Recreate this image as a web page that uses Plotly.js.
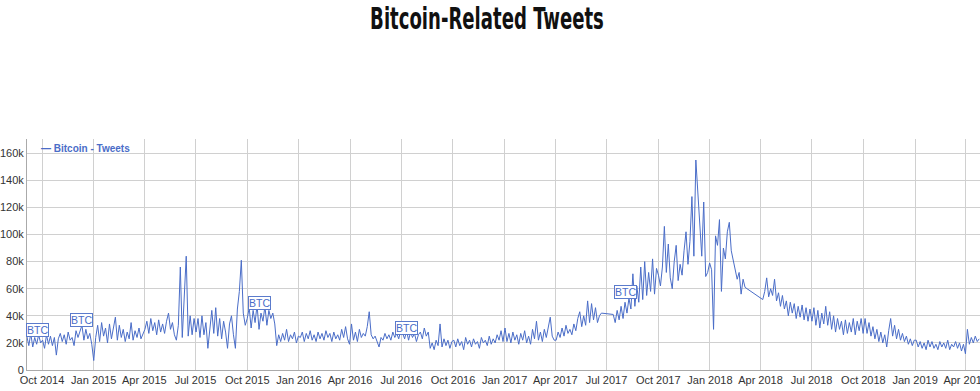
<!DOCTYPE html>
<html>
<head>
<meta charset="utf-8">
<script src="https://cdn.plot.ly/plotly-3.0.1.min.js"></script>
<style>
  html, body { margin: 0; padding: 0; background: #ffffff; }
  #chart { width: 980px; height: 391px; }
</style>
</head>
<body>
<div id="chart"></div>
<script>
// ---- Data (tweets per sample, in thousands; one sample every 3.5 days from 2014-09-04) ----
const seriesName = "Bitcoin - Tweets";
const startDate = "2014-09-04";
const stepDays = 3.5;

const s2014_09 = [25, 18, 27, 17, 24, 19, 26, 20];
const q2014_4 = [22, 16, 26, 19, 25, 18, 24, 11, 23, 27, 21, 26, 19, 28, 22, 24, 18, 29, 24, 28, 33, 22, 30, 23, 27, 19];
const q2015_1 = [7, 24, 33, 21, 35, 25, 31, 20, 34, 23, 30, 39, 22, 33, 24, 30, 21, 28, 23, 35, 22, 29, 24, 31, 23, 27];
const q2015_2 = [30, 36, 27, 38, 29, 35, 26, 37, 28, 34, 27, 36, 42, 30, 35, 26, 22, 33, 76, 24, 51, 84, 25, 40, 26, 38];
const q2015_3 = [28, 38, 24, 40, 26, 35, 16, 33, 44, 27, 46, 25, 38, 23, 36, 28, 16, 34, 40, 26, 16, 45, 58, 81, 42, 33];
const q2015_4 = [38, 46, 31, 44, 35, 48, 30, 42, 36, 47, 33, 44, 38, 42, 34, 18, 26, 21, 27, 22, 30, 21, 26, 23, 28, 20, 25];
const q2016_1 = [24, 28, 21, 27, 23, 29, 22, 26, 21, 28, 23, 27, 22, 29, 24, 27, 21, 28, 23, 26, 22, 30, 24, 32, 23, 19];
const q2016_2 = [34, 22, 28, 21, 30, 24, 27, 25, 32, 43, 26, 23, 25, 21, 17, 24, 22, 27, 23, 26, 22, 28, 24, 27, 23, 29];
const q2016_3 = [27, 23, 29, 22, 28, 24, 27, 21, 26, 28, 23, 31, 25, 28, 16, 20, 15, 22, 18, 34, 17, 23, 18, 22, 16, 21];
const q2016_4 = [22, 17, 23, 18, 21, 15, 24, 19, 22, 17, 23, 19, 21, 16, 24, 20, 22, 18, 25, 19, 23, 20, 26, 22, 29, 21];
const q2017_1 = [31, 21, 27, 20, 28, 22, 26, 19, 27, 22, 29, 20, 25, 19, 30, 23, 36, 22, 28, 21, 30, 24, 33, 39, 25, 22];
const q2017_2 = [22, 28, 24, 31, 25, 33, 27, 30, 26, 34, 29, 38, 43, 32, 40, 33, 51, 35, 49, 37, 46, 35, 40, 42, null, null];
const q2017_3 = [null, null, null, 41, 35, 44, 37, 47, 38, 50, 42, 53, 45, 71, 47, 62, 50, 76, 52, 80, 55, 72, 58, 82, 56, 75];
const q2017_4 = [70, 62, 76, 106, 72, 93, 68, 60, 80, 92, 66, 78, 70, 88, 102, 78, 95, 128, 84, 155, 128, 106, 84, 124, 69, 72, 79];
const q2018_1 = [74, 30, 99, 92, 111, 58, 90, 82, 102, 109, 88, 80, 75, 67, 72, 56, 67, 61, null, null, null, null, null, null, null];
const q2018_2 = [null, 52, 58, 68, 54, 60, 55, 67, 51, 57, 47, 55, 45, 51, 40, 50, 42, 49, 38, 47, 39, 48, 37, 46, 36, 45];
const q2018_3 = [36, 46, 33, 44, 31, 42, 34, 47, 33, 43, 30, 40, 28, 38, 30, 36, 26, 37, 27, 35, 28, 38, 26, 36, 29, 38, 27];
const q2018_4 = [38, 27, 35, 25, 32, 23, 30, 21, 28, 20, 26, 17, 29, 38, 25, 33, 23, 30, 22, 27, 21, 25, 19, 23, 18, 22];
const q2019_1 = [22, 17, 21, 16, 20, 15, 22, 17, 21, 16, 19, 15, 21, 17, 20, 16, 22, 15, 19, 17, 21, 16, 20, 14, 19, 12];
const s2019_04 = [30, 19, 24, 20, 25, 21, 23];

// Flag annotations ("BTC") : dates and values (thousands)
const flagDates = ["2014-09-23", "2014-12-11", "2015-10-23", "2016-07-10", "2017-08-03"];
const flagValues = [29.2, 36.6, 49.4, 30.7, 57.4];
const flagText = "BTC";

// Axis ticks
const yTickVals = [0, 20, 40, 60, 80, 100, 120, 140, 160];
const yTickText = ["0", "20k", "40k", "60k", "80k", "100k", "120k", "140k", "160k"];

// ---- Build ----
const values = [].concat(s2014_09, q2014_4, q2015_1, q2015_2, q2015_3, q2015_4,
  q2016_1, q2016_2, q2016_3, q2016_4, q2017_1, q2017_2, q2017_3, q2017_4,
  q2018_1, q2018_2, q2018_3, q2018_4, q2019_1, s2019_04);

const t0 = Date.parse(startDate + "T00:00:00Z");
const dates = values.map((_, i) => {
  const d = new Date(t0 + i * stepDays * 86400000);
  return d.toISOString().slice(0, 16).replace("T", " ");
});

const lineColor = "#4a6dc8";

const trace = {
  type: "scatter",
  mode: "lines",
  name: seriesName,
  x: dates,
  y: values,
  connectgaps: true,
  line: { color: lineColor, width: 1 },
  hoverinfo: "x+y",
  showlegend: false
};

const annotations = flagDates.map((d, i) => ({
  x: d, y: flagValues[i], xref: "x", yref: "y",
  text: flagText, showarrow: false,
  font: { family: "Liberation Sans, Arial, sans-serif", size: 10.5, color: lineColor },
  bgcolor: "#ffffff", bordercolor: "#5b7bcc", borderwidth: 1, borderpad: 0,
  xanchor: "center", yanchor: "middle"
}));

annotations.push({
  xref: "paper", yref: "paper", x: 0.0125, y: 0.96,
  xanchor: "left", yanchor: "middle", showarrow: false,
  text: "<b>\u2014 " + seriesName + "</b>",
  font: { family: "Liberation Sans, Arial, sans-serif", size: 10, color: lineColor }
});

const layout = {
  width: 980, height: 391,
  margin: { l: 27, r: 0, t: 139, b: 21, pad: 0 },
  paper_bgcolor: "#ffffff",
  plot_bgcolor: "#ffffff",
  title: {
    text: "Bitcoin-Related Tweets",
    x: 487 / 980, xref: "container", xanchor: "center",
    y: 1 - 19 / 391, yref: "container", yanchor: "middle",
    font: { family: "DejaVu Sans Condensed, Liberation Sans Narrow, sans-serif", size: 30, weight: 700, color: "#111111" }
  },
  xaxis: {
    type: "date",
    range: ["2014-09-04 07:00", "2019-04-26 10:00"],
    tick0: "2014-10-01", dtick: "M3",
    tickformat: "%b %Y",
    ticklabeloverflow: "allow",
    showgrid: true, gridcolor: "#d0d0d0", gridwidth: 1,
    showline: true, linecolor: "#aaaaaa", linewidth: 1,
    ticks: "", zeroline: false,
    automargin: false,
    tickfont: { family: "Liberation Sans, Arial, sans-serif", size: 11, color: "#333333" }
  },
  yaxis: {
    range: [0, 170.5],
    tickvals: yTickVals, ticktext: yTickText,
    showgrid: true, gridcolor: "#d0d0d0", gridwidth: 1,
    showline: true, linecolor: "#aaaaaa", linewidth: 1,
    ticks: "", zeroline: false,
    automargin: false,
    tickfont: { family: "Liberation Sans, Arial, sans-serif", size: 11, color: "#333333" }
  },
  annotations: annotations,
  showlegend: false,
  hovermode: "closest"
};

Plotly.newPlot("chart", [trace], layout, { displayModeBar: false, staticPlot: true }).then(gd => {
  // Condense the title horizontally to mimic the narrow display face of the original.
  const t = gd.querySelector("text.gtitle");
  if (t) {
    const bb = t.getBBox();
    const cx = bb.x + bb.width / 2;
    const sx = 234 / bb.width;
    const prev = t.getAttribute("transform") || "";
    t.setAttribute("transform", prev + " translate(" + cx + ",0) scale(" + sx + ",1) translate(" + (-cx) + ",0)");
  }
});
</script>
</body>
</html>
